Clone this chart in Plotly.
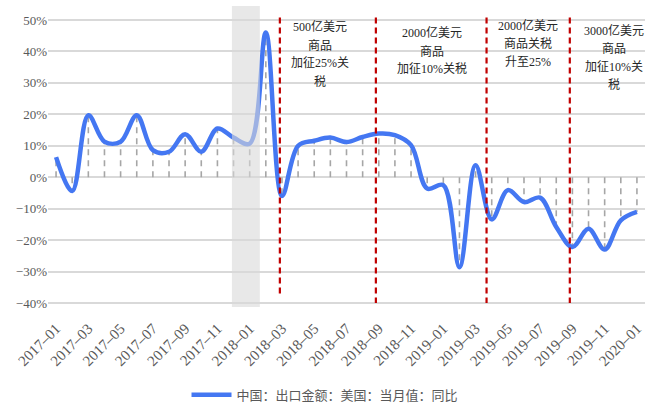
import plotly.graph_objects as go

# Monthly series: China exports to the US, year-on-year growth (%)
months = [
    "2017-01", "2017-02", "2017-03", "2017-04", "2017-05", "2017-06",
    "2017-07", "2017-08", "2017-09", "2017-10", "2017-11", "2017-12",
    "2018-01", "2018-02", "2018-03", "2018-04", "2018-05", "2018-06",
    "2018-07", "2018-08", "2018-09", "2018-10", "2018-11", "2018-12",
    "2019-01", "2019-02", "2019-03", "2019-04", "2019-05", "2019-06",
    "2019-07", "2019-08", "2019-09", "2019-10", "2019-11", "2019-12",
    "2020-01",
]
yoy = [
    6.4, -4.4, 19.7, 11.3, 11.3, 19.7,
    8.6, 8.1, 13.7, 8.1, 15.5, 12.6,
    10.7, 46.0, -6.0, 10.0, 11.6, 12.6,
    11.2, 12.8, 13.9, 13.4, 10.2, -3.6,
    -2.5, -28.6, 3.8, -13.4, -4.1, -7.9,
    -6.5, -15.8, -22.2, -16.4, -23.0, -13.7,
    -11.0,
]
series_name = "中国：出口金额：美国：当月值：同比"

# Tariff events (position on the month axis) and their notes
event_pos = [13.87, 19.82, 26.68, 31.84]
event_bottom = [-37.5, -40, -40, -40]
event_lines = [
    ["500亿美元", "商品", "加征25%关", "税"],
    ["2000亿美元", "商品", "加征10%关税"],
    ["2000亿美元", "商品关税", "升至25%"],
    ["3000亿美元", "商品", "加征10%关", "税"],
]
event_text_x = [16.35, 23.27, 29.24, 34.6]
event_text_top = [47.8, 45.9, 48.4, 46.8]
line_step = 5.8

# Shaded Spring Festival window
band_x = [10.9, 12.63]

y_ticks = [-40, -30, -20, -10, 0, 10, 20, 30, 40, 50]
x_ticks = months[::2]
x_ticktext = [m.replace("-", "–") for m in x_ticks]

serif = "Liberation Serif, Noto Sans CJK SC, serif"
tick_color = "#595959"

fig = go.Figure()

# dashed drop lines from each month down/up to zero
drop_x, drop_y = [], []
for m, v in zip(months, yoy):
    drop_x += [m, m, None]
    drop_y += [0, v, None]
fig.add_trace(go.Scatter(
    x=drop_x, y=drop_y, mode="lines",
    line=dict(color="#a6a6a6", width=1.6, dash="6px,5px"),
    showlegend=False, hoverinfo="skip",
))

fig.add_trace(go.Scatter(
    x=months, y=yoy, mode="lines", name=series_name,
    line=dict(color="#4477F2", width=4.5, shape="spline", smoothing=1),
))

# grey band drawn over the line
fig.add_shape(
    type="rect", xref="x", yref="paper",
    x0=band_x[0], x1=band_x[1], y0=0, y1=1,
    fillcolor="#d9d9d9", opacity=0.6, line=dict(width=0), layer="above",
)

for xp, yb in zip(event_pos, event_bottom):
    fig.add_shape(
        type="line", xref="x", yref="y",
        x0=xp, x1=xp, y0=50.8, y1=yb,
        line=dict(color="#c00000", width=2.2, dash="6px,4px"), layer="above",
    )

for tx, ty, lines in zip(event_text_x, event_text_top, event_lines):
    for k, t in enumerate(lines):
        fig.add_annotation(
            x=tx, y=ty - k * line_step, xref="x", yref="y", text=t,
            showarrow=False, yanchor="middle", xanchor="center",
            font=dict(family=serif, size=12, color="#262626"),
        )

fig.update_layout(
    width=652, height=406,
    margin=dict(l=48, r=7, t=6, b=99, autoexpand=False),
    paper_bgcolor="white", plot_bgcolor="white",
    showlegend=True,
    legend=dict(
        orientation="h", x=0.464, xanchor="center", y=-0.292, yanchor="middle",
        font=dict(family="Noto Sans CJK SC", size=13, color=tick_color),
        itemwidth=40,
    ),
    xaxis=dict(
        type="category", categoryorder="array", categoryarray=months,
        range=[-0.5, len(months) - 0.5], automargin=False,
        tickvals=x_ticks, ticktext=x_ticktext,
        tickangle=-45, showgrid=False, zeroline=False, showline=False,
        ticks="", ticklabelstandoff=9,
        tickfont=dict(family=serif, size=15, color=tick_color),
    ),
    yaxis=dict(
        range=[-41.27, 54.46], tickvals=y_ticks, automargin=False,
        ticktext=[("−" if t < 0 else "") + f"{abs(t)}%" for t in y_ticks],
        showgrid=True, gridcolor="#d9d9d9", gridwidth=1.5,
        zeroline=False, showline=False, ticks="",
        tickfont=dict(family=serif, size=13, color=tick_color),
    ),
)

fig.write_html("out.html")
